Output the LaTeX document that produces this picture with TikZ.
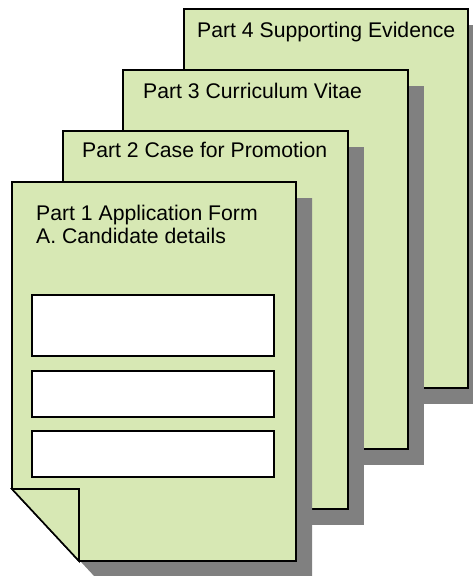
\documentclass[tikz,border=0pt]{standalone}
\usepackage{fontspec}
\setmainfont{Liberation Sans}
\definecolor{pagegreen}{HTML}{D7E8B4}
\definecolor{shadowgray}{HTML}{808080}
\begin{document}
\begin{tikzpicture}[x=1pt,y=-1pt,
  pageshape/.style={fill=pagegreen,draw=black,line width=1.6pt,line join=miter},
  pageshadow/.style={fill=shadowgray},
  lbl/.style={anchor=base west,inner sep=0pt,font=\fontsize{21.2}{24}\selectfont},
  field/.style={fill=white,draw=black,line width=1.6pt}]
\useasboundingbox (0,0) rectangle (473,576);
\clip (0,0) rectangle (473,576);
% page 4
\fill[pageshadow] (200,25) rectangle (484,404);
\draw[pageshape] (184,9) rectangle (468,388);
\node[lbl] (t4) at (197,37) {Part 4 Supporting Evidence};
% page 3
\fill[pageshadow] (139,86) rectangle (424,465);
\draw[pageshape] (123,70) rectangle (408,449);
\node[lbl] (t3) at (143,98) {Part 3 Curriculum Vitae};
% page 2
\fill[pageshadow] (79,147) rectangle (364,525);
\draw[pageshape] (63,131) rectangle (348,509);
\node[lbl] (t2) at (82,157) {Part 2 Case for Promotion};
% page 1
\fill[pageshadow] (28,198) -- (312,198) -- (312,577) -- (95,577) -- (28,505) -- cycle;
\draw[pageshape] (12,182) -- (296,182) -- (296,561) -- (79,561) -- (12,489) -- cycle;
\draw[pageshape] (12,489) -- (79,489) -- (79,561) -- cycle;
\node[lbl] (t1a) at (36,220) {Part 1 Application Form};
\node[lbl] (t1b) at (36,243) {A. Candidate details};
\draw[field] (32,295) rectangle (274,356);
\draw[field] (32,371) rectangle (274,417);
\draw[field] (32,431) rectangle (274,477);
\end{tikzpicture}
\end{document}
